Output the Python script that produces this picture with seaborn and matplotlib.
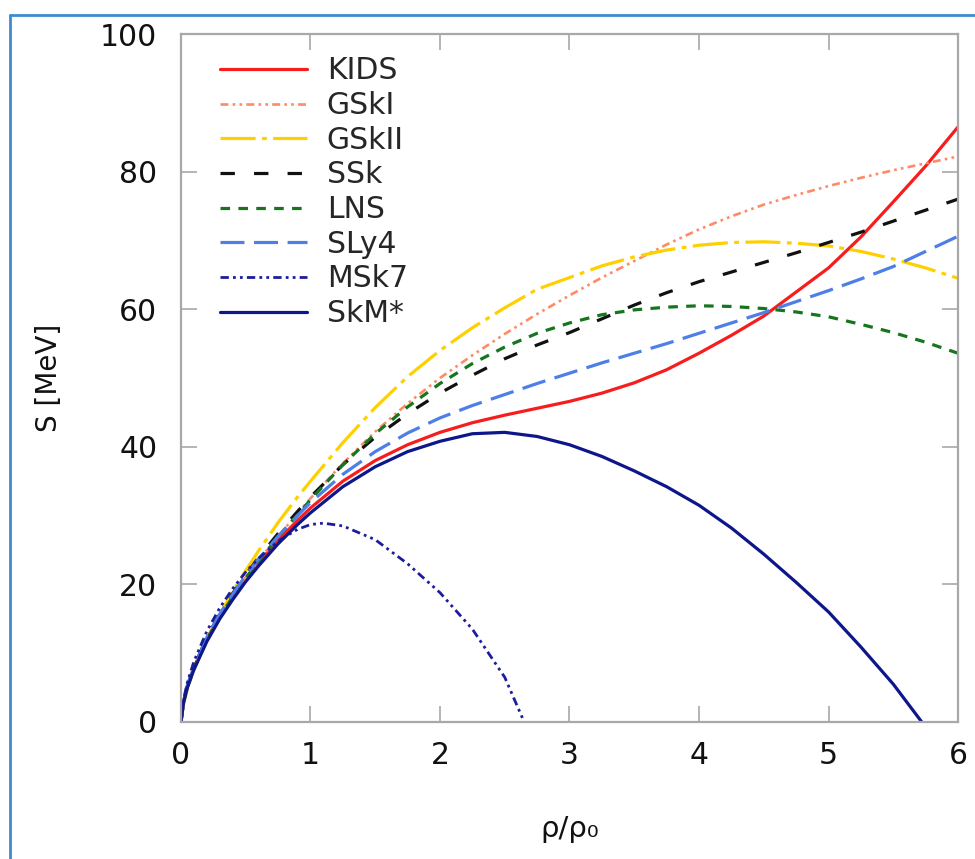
import matplotlib
matplotlib.use("Agg")
import matplotlib.pyplot as plt
from matplotlib.lines import Line2D
import seaborn as sns
import pandas as pd

# Density grid rho/rho0 shared by most parametrisations
rho = [0, 0.02, 0.05, 0.1, 0.2, 0.3, 0.4, 0.5, 0.6, 0.75, 0.9, 1.0, 1.25, 1.5,
       1.75, 2.0, 2.25, 2.5, 2.75, 3.0, 3.25, 3.5, 3.75, 4.0, 4.25, 4.5, 4.75,
       5.0, 5.25, 5.5, 5.75, 6.0]

s_kids = [0, 3.0, 5.2, 7.9, 12.1, 15.4, 18.3, 20.9, 23.2, 26.4, 29.3, 31.1, 35.0, 38.0,
          40.3, 42.1, 43.5, 44.6, 45.6, 46.6, 47.8, 49.3, 51.2, 53.6, 56.2, 59.0, 62.5,
          66.0, 70.5, 75.6, 80.8, 86.5]
s_gski = [0, 3.0, 5.2, 7.9, 12.1, 15.4, 18.3, 21.0, 23.5, 27.0, 30.3, 32.5, 37.6, 42.2,
          46.3, 50.0, 53.3, 56.4, 59.3, 62.0, 64.6, 67.0, 69.4, 71.6, 73.5, 75.2, 76.6,
          77.9, 79.1, 80.2, 81.2, 82.2]
s_gskii = [0, 2.6, 4.8, 7.6, 12.0, 15.6, 19.0, 22.0, 24.9, 29.0, 32.7, 35.0, 40.6, 45.7,
           50.2, 54.0, 57.3, 60.2, 62.9, 64.6, 66.3, 67.6, 68.6, 69.3, 69.7, 69.8, 69.6,
           69.2, 68.4, 67.3, 66.0, 64.5]
s_ssk = [0, 3.0, 5.3, 8.0, 12.3, 15.7, 18.7, 21.4, 23.9, 27.4, 30.6, 32.7, 37.4, 41.4,
         44.8, 47.8, 50.4, 52.8, 54.8, 56.6, 58.6, 60.6, 62.4, 64.0, 65.4, 66.8, 68.2,
         69.7, 71.2, 72.8, 74.4, 76.0]
s_lns = [0, 2.9, 5.1, 7.8, 12.0, 15.3, 18.2, 20.9, 23.4, 26.9, 30.1, 32.3, 37.4, 41.9,
         45.8, 49.2, 52.1, 54.5, 56.5, 58.0, 59.2, 59.9, 60.3, 60.5, 60.4, 60.1, 59.6,
         58.9, 57.8, 56.6, 55.2, 53.6]
s_sly4 = [0, 3.0, 5.3, 8.0, 12.3, 15.7, 18.6, 21.3, 23.7, 27.0, 30.0, 31.9, 36.0, 39.3,
          42.0, 44.2, 46.0, 47.6, 49.2, 50.7, 52.2, 53.6, 55.0, 56.5, 58.0, 59.5, 61.1,
          62.7, 64.4, 66.2, 68.4, 70.6]

# Curves that reach S = 0 before the end of the range
rho_msk7 = [0, 0.02, 0.05, 0.1, 0.2, 0.3, 0.4, 0.5, 0.6, 0.75, 0.9, 1.0, 1.1, 1.25,
            1.5, 1.75, 2.0, 2.25, 2.5, 2.65]
s_msk7 = [0, 3.3, 5.8, 8.8, 13.2, 16.6, 19.4, 21.8, 23.8, 26.3, 28.0, 28.7, 28.9, 28.5,
          26.5, 23.0, 18.8, 13.5, 6.5, 0]

rho_skm = [0, 0.02, 0.05, 0.1, 0.2, 0.3, 0.4, 0.5, 0.6, 0.75, 0.9, 1.0, 1.25, 1.5,
           1.75, 2.0, 2.25, 2.5, 2.75, 3.0, 3.25, 3.5, 3.75, 4.0, 4.25, 4.5, 4.75,
           5.0, 5.25, 5.5, 5.72]
s_skm = [0, 2.8, 5.0, 7.6, 11.7, 15.0, 17.8, 20.4, 22.7, 25.9, 28.7, 30.4, 34.2, 37.1,
         39.3, 40.8, 41.9, 42.1, 41.5, 40.3, 38.6, 36.5, 34.2, 31.5, 28.2, 24.4, 20.3,
         16.0, 10.9, 5.5, 0]

labels = ["KIDS", "GSkI", "GSkII", "SSk", "LNS", "SLy4", "MSk7", "SkM*"]
series = [(rho, s_kids), (rho, s_gski), (rho, s_gskii), (rho, s_ssk), (rho, s_lns),
          (rho, s_sly4), (rho_msk7, s_msk7), (rho_skm, s_skm)]

styles = {
    "KIDS":  dict(color="#f71d1d", ls="-", lw=2.3),
    "GSkI":  dict(color="#ff8a66", ls=(0, (3.0, 1.6, 1.0, 1.6, 1.0, 1.6)), lw=1.9),
    "GSkII": dict(color="#ffd000", ls=(0, (11, 2.0, 1.5, 2.0)), lw=2.3),
    "SSk":   dict(color="#111111", ls=(0, (4.5, 6.0)), lw=2.3),
    "LNS":   dict(color="#17761d", ls=(0, (3.0, 2.6)), lw=2.3),
    "SLy4":  dict(color="#4d7fe6", ls=(0, (7.5, 3.0)), lw=2.3),
    "MSk7":  dict(color="#1d1d9c", ls=(0, (3.0, 1.5, 1.0, 1.5, 1.0, 1.5)), lw=2.0),
    "SkM*":  dict(color="#0d168a", ls="-", lw=2.3),
}

sns.set_style("ticks")
plt.rcParams["font.family"] = ["DejaVu Sans"]

fig = plt.figure(figsize=(9.75, 8.59), dpi=100)
ax = fig.add_axes([0.1856, 0.1595, 0.9826 - 0.1856, 0.9604 - 0.1595])

for name, (xs, ys) in zip(labels, series):
    df = pd.DataFrame({"rho": xs, "S": ys})
    st = styles[name]
    sns.lineplot(data=df, x="rho", y="S", ax=ax, estimator=None, sort=False,
                 color=st["color"], linestyle=st["ls"], linewidth=st["lw"],
                 label=name)

ax.set_xlim(0, 6)
ax.set_ylim(0, 100)
ax.set_xticks(range(0, 7))
ax.set_yticks(range(0, 101, 20))

grey = "#a8a8a8"
for sp in ax.spines.values():
    sp.set_visible(True)
    sp.set_color(grey)
    sp.set_linewidth(1.6)
ax.tick_params(axis="both", which="major", direction="in", length=11.5, width=1.2,
               color=grey, top=True, right=True, labelsize=21.5, labelcolor="#111111")
ax.tick_params(axis="y", pad=17)
ax.tick_params(axis="x", pad=14)

ax.set_xlabel("ρ/ρ₀", fontsize=21, labelpad=32, color="#111111")
ax.set_ylabel("S [MeV]", fontsize=20, labelpad=27, color="#111111")

leg = ax.legend(loc="upper left", frameon=False, fontsize=21.5, handlelength=2.9,
                handletextpad=0.67, labelspacing=0.19, borderaxespad=0.0,
                bbox_to_anchor=(0.035, 0.985))

# Slide frame around the chart
frame_col = "#3d8bd2"
fig.add_artist(Line2D([10 / 975, 10 / 975], [0, 1 - 15 / 859], transform=fig.transFigure,
                      color=frame_col, lw=2.0))
fig.add_artist(Line2D([10 / 975, 1], [1 - 15 / 859, 1 - 15 / 859], transform=fig.transFigure,
                      color=frame_col, lw=2.0))

fig.savefig("out.png", dpi=100)
